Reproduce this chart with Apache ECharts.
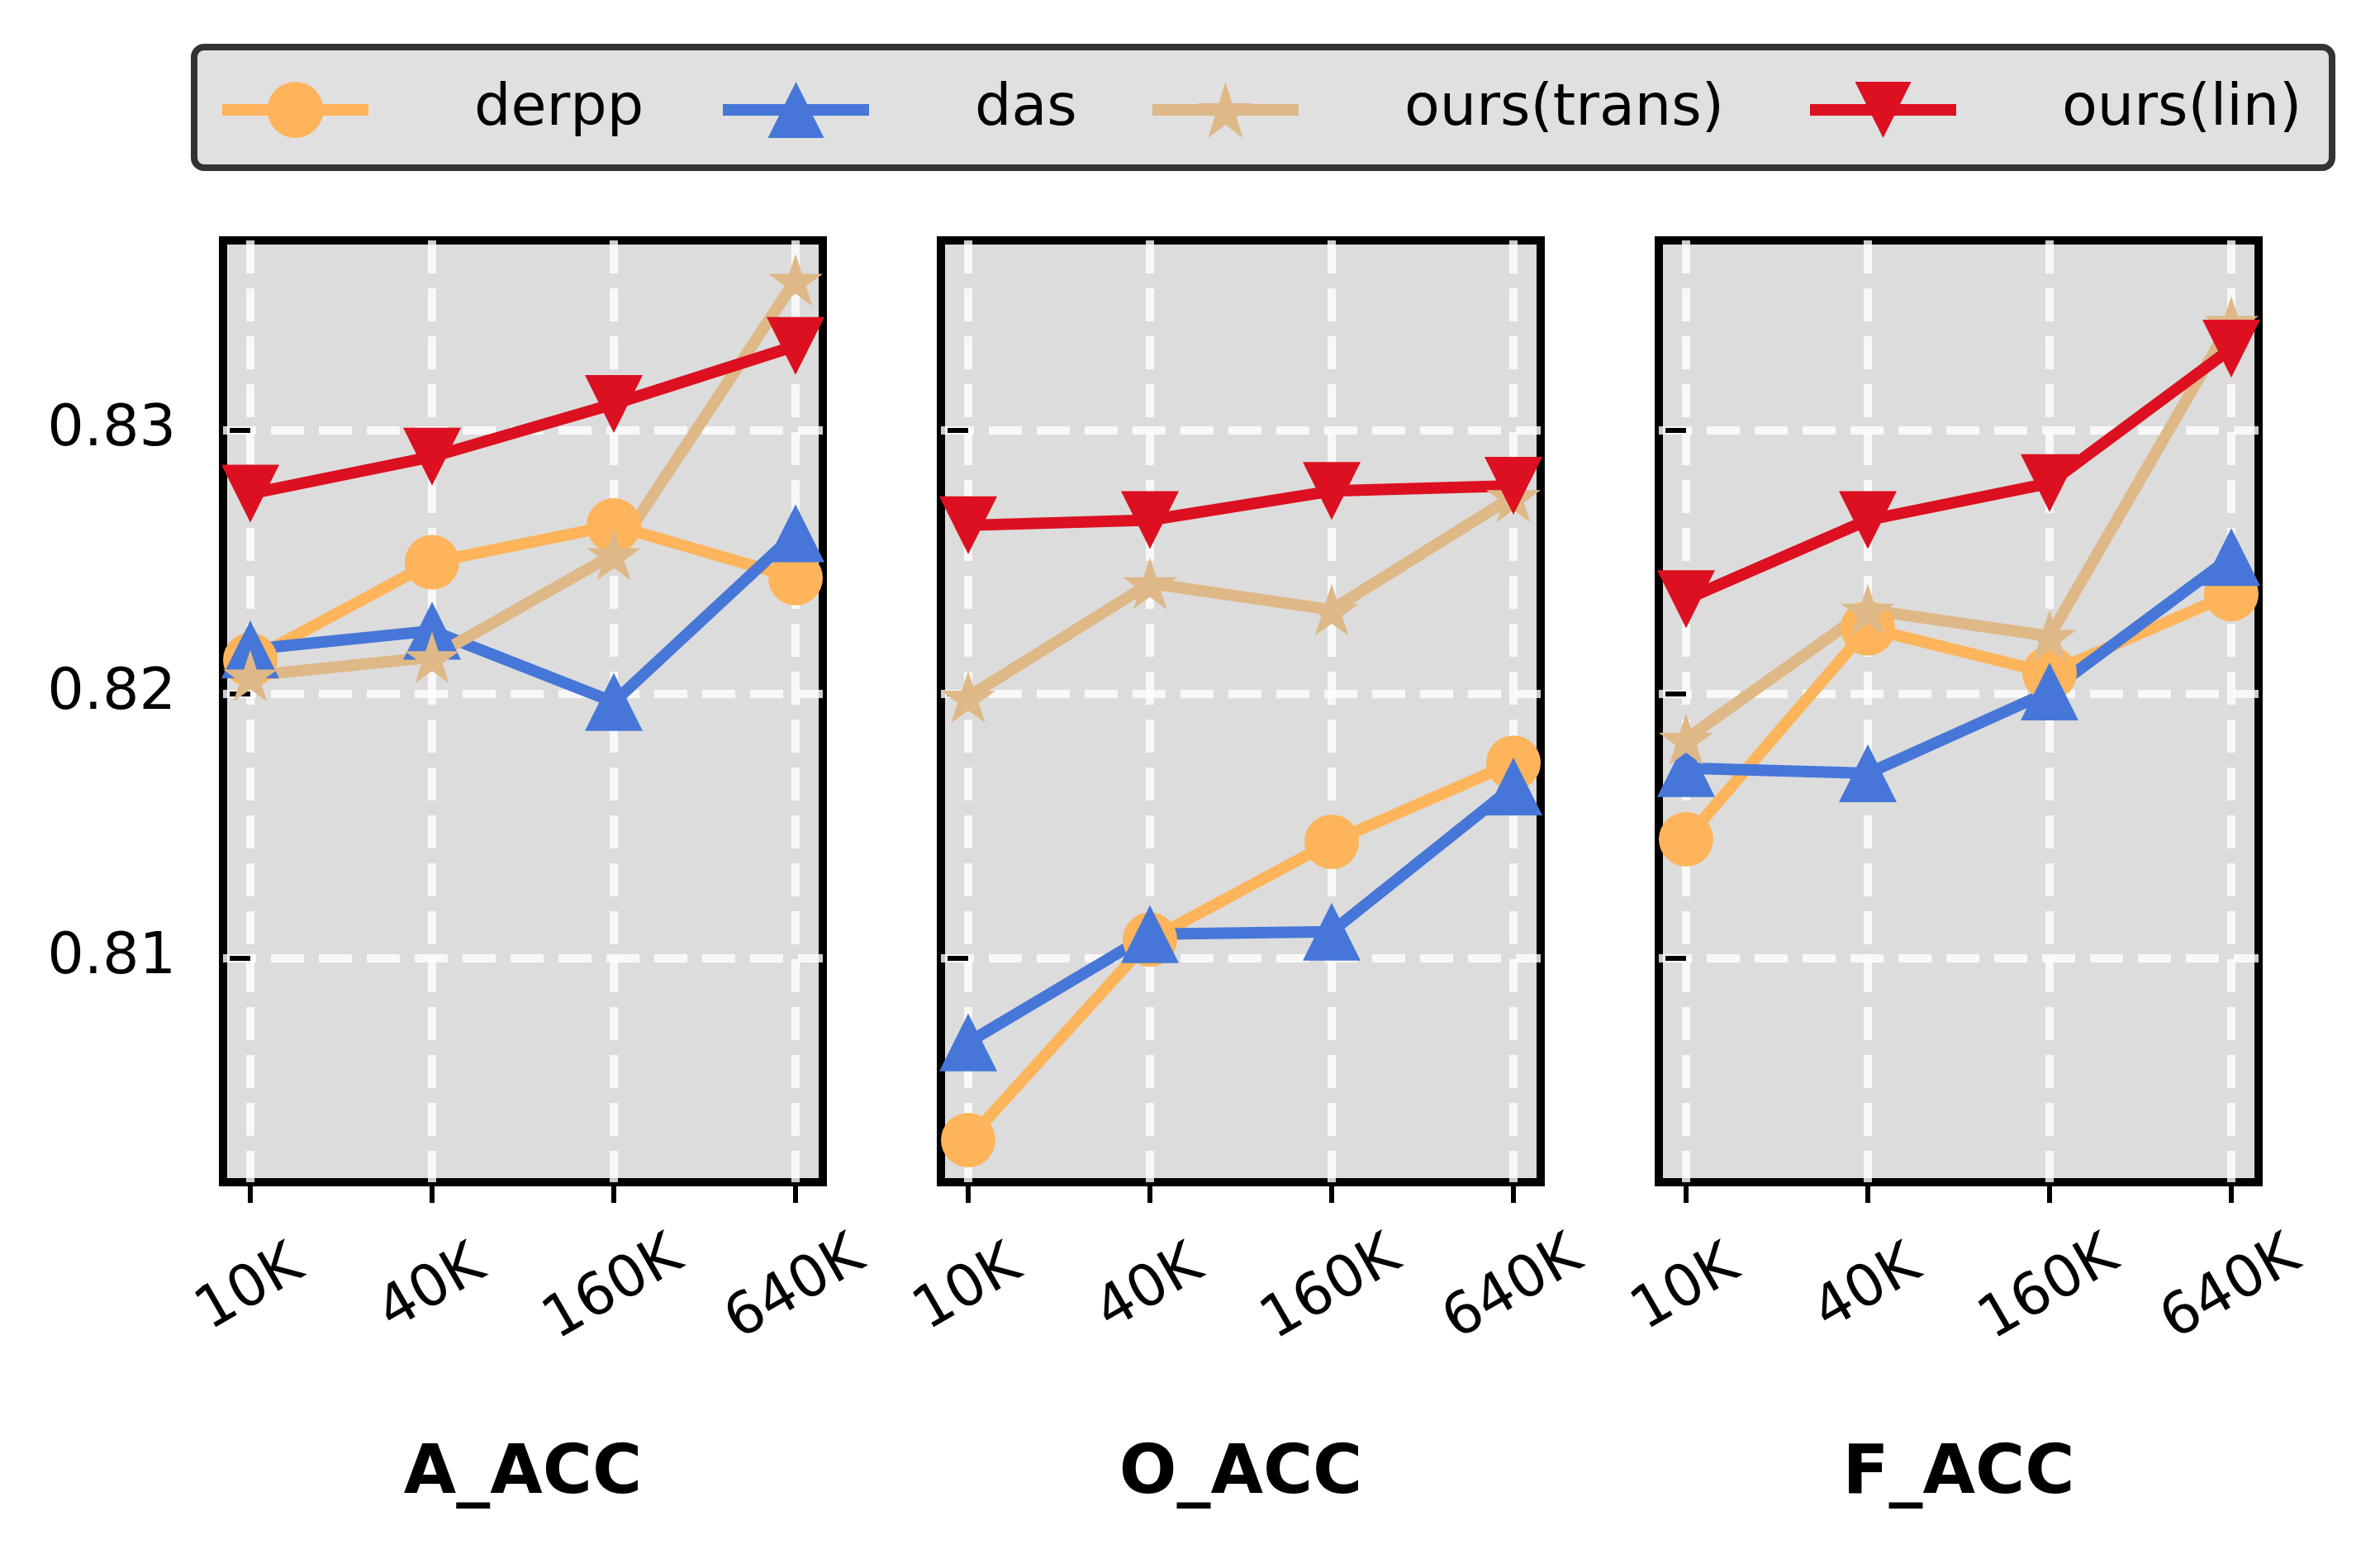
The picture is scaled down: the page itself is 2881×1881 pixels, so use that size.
<!DOCTYPE html>
<html>
<head>
<meta charset="utf-8">
<title>A_ACC / O_ACC / F_ACC</title>
<script src="https://cdn.jsdelivr.net/npm/echarts@6/dist/echarts.min.js"></script>
<style>
  html, body { margin: 0; padding: 0; background: #ffffff; }
  #main { width: 2881px; height: 1881px; }
</style>
</head>
<body>
<div id="main"></div>
<script>
// 横轴刻度（数据量）
const sizes = ['10K', '40K', '160K', '640K'];
// 三个子图
const panels = ['A_ACC', 'O_ACC', 'F_ACC'];
// 图例
const methods = ['derpp', 'das', 'ours(trans)', 'ours(lin)'];
// 纵轴刻度
const yTicks = [0.81, 0.82, 0.83];

// 每个方法：依次为 A_ACC, O_ACC, F_ACC 三个子图的值
const derpp = [
  [0.8213, 0.8250, 0.8264, 0.8244],
  [0.8031, 0.8107, 0.8144, 0.8174],
  [0.8145, 0.8225, 0.8208, 0.8238]
];
const das = [
  [0.8217, 0.8224, 0.8197, 0.8261],
  [0.8068, 0.8109, 0.8110, 0.8165],
  [0.8172, 0.8170, 0.8201, 0.8252]
];
const oursTrans = [
  [0.8207, 0.8214, 0.8253, 0.8357],
  [0.8199, 0.8242, 0.8232, 0.8275],
  [0.8183, 0.8232, 0.8222, 0.8341]
];
const oursLin = [
  [0.8276, 0.8290, 0.8310, 0.8332],
  [0.8264, 0.8266, 0.8277, 0.8279],
  [0.8236, 0.8266, 0.8280, 0.8331]
];

const FONT = '"DejaVu Sans", sans-serif';
const colors = ['#fdb45a', '#4677d8', '#deb887', '#dc1020'];

// 五角星符号（和 matplotlib 的 '*' 一样的内外半径比例）
function starPath() {
  const pts = [];
  for (let k = 0; k < 10; k++) {
    const r = k % 2 === 0 ? 1 : 0.381966;
    const a = Math.PI / 2 + k * Math.PI / 5;
    pts.push((r * Math.cos(a)).toFixed(4) + ',' + (-r * Math.sin(a)).toFixed(4));
  }
  return 'path://M' + pts.join('L') + 'Z';
}

const styles = [
  { symbol: 'circle', size: 66, rotate: 0 },
  { symbol: 'triangle', size: 70, rotate: 0 },
  { symbol: starPath(), size: 66, rotate: 0 },
  { symbol: 'triangle', size: 70, rotate: 180 }
];
const allData = [derpp, das, oursTrans, oursLin];

// 布局
const gridLeft = [270, 1139, 2008];
const gridTop = 291;
const gridW = 726;
const gridH = 1140;
const legendLeft = [262, 868, 1388, 2184];

const chart = echarts.init(document.getElementById('main'), null, { renderer: 'canvas' });

const grids = [];
const xAxes = [];
const yAxes = [];
const series = [];

panels.forEach((title, p) => {
  grids.push({
    left: gridLeft[p],
    top: gridTop,
    width: gridW,
    height: gridH,
    show: true,
    backgroundColor: '#dcdcdc',
    borderColor: '#000000',
    borderWidth: 10,
    outerBoundsMode: 'none'
  });

  xAxes.push({
    gridIndex: p,
    type: 'value',
    min: -0.15,
    max: 3.15,
    axisLine: { show: false },
    axisTick: {
      show: true,
      length: 25,
      customValues: [0, 1, 2, 3],
      lineStyle: { color: '#000', width: 6 }
    },
    axisLabel: {
      customValues: [0, 1, 2, 3],
      formatter: v => sizes[Math.round(v)],
      rotate: 30,
      align: 'center',
      verticalAlign: 'middle',
      margin: 130,
      fontSize: 70,
      fontFamily: FONT,
      color: '#000'
    },
    splitLine: {
      show: true,
      lineStyle: { color: 'rgba(255,255,255,0.8)', width: 10, type: [40, 18] }
    },
    name: title,
    nameLocation: 'middle',
    nameGap: 355,
    nameTextStyle: {
      fontSize: 82,
      fontWeight: 'bold',
      fontFamily: FONT,
      color: '#000',
      verticalAlign: 'middle'
    }
  });

  yAxes.push({
    gridIndex: p,
    type: 'value',
    min: 0.8015,
    max: 0.8372,
    axisLine: { show: false },
    axisTick: {
      show: true,
      length: 25,
      customValues: yTicks,
      lineStyle: { color: '#000', width: 6 }
    },
    axisLabel: {
      show: p === 0,
      customValues: yTicks,
      formatter: v => v.toFixed(2),
      margin: 57,
      fontSize: 70,
      fontFamily: FONT,
      color: '#000'
    },
    splitLine: {
      show: true,
      lineStyle: { color: 'rgba(255,255,255,0.8)', width: 10, type: [40, 18] }
    }
  });

  methods.forEach((name, m) => {
    series.push({
      type: 'line',
      name: name,
      xAxisIndex: p,
      yAxisIndex: p,
      data: allData[m][p].map((v, i) => [i, v]),
      symbol: styles[m].symbol,
      symbolSize: styles[m].size,
      symbolRotate: styles[m].rotate,
      symbolKeepAspect: true,
      clip: false,
      lineStyle: { color: colors[m], width: 14 },
      itemStyle: { color: colors[m], borderWidth: 0 },
      emphasis: { disabled: true },
      silent: true
    });
  });
});

const option = {
  animation: false,
  backgroundColor: '#ffffff',
  grid: grids,
  xAxis: xAxes,
  yAxis: yAxes,
  series: series,
  legend: methods.map((name, i) => ({
    data: [name],
    left: legendLeft[i],
    top: 98,
    padding: 0,
    itemWidth: 177,
    itemHeight: 85,
    selectedMode: false,
    lineStyle: { width: 14 },
    itemStyle: { borderWidth: 0 },
    textStyle: {
      fontSize: 70,
      fontFamily: FONT,
      color: '#000',
      padding: [10, 0, 0, 123]
    }
  })),
  graphic: {
    elements: [{
      type: 'rect',
      z: 0,
      shape: { x: 235, y: 57, width: 2588, height: 146, r: 12 },
      style: { fill: '#e0e0e0', stroke: '#333333', lineWidth: 8 }
    }]
  }
};

chart.setOption(option);
</script>
</body>
</html>
